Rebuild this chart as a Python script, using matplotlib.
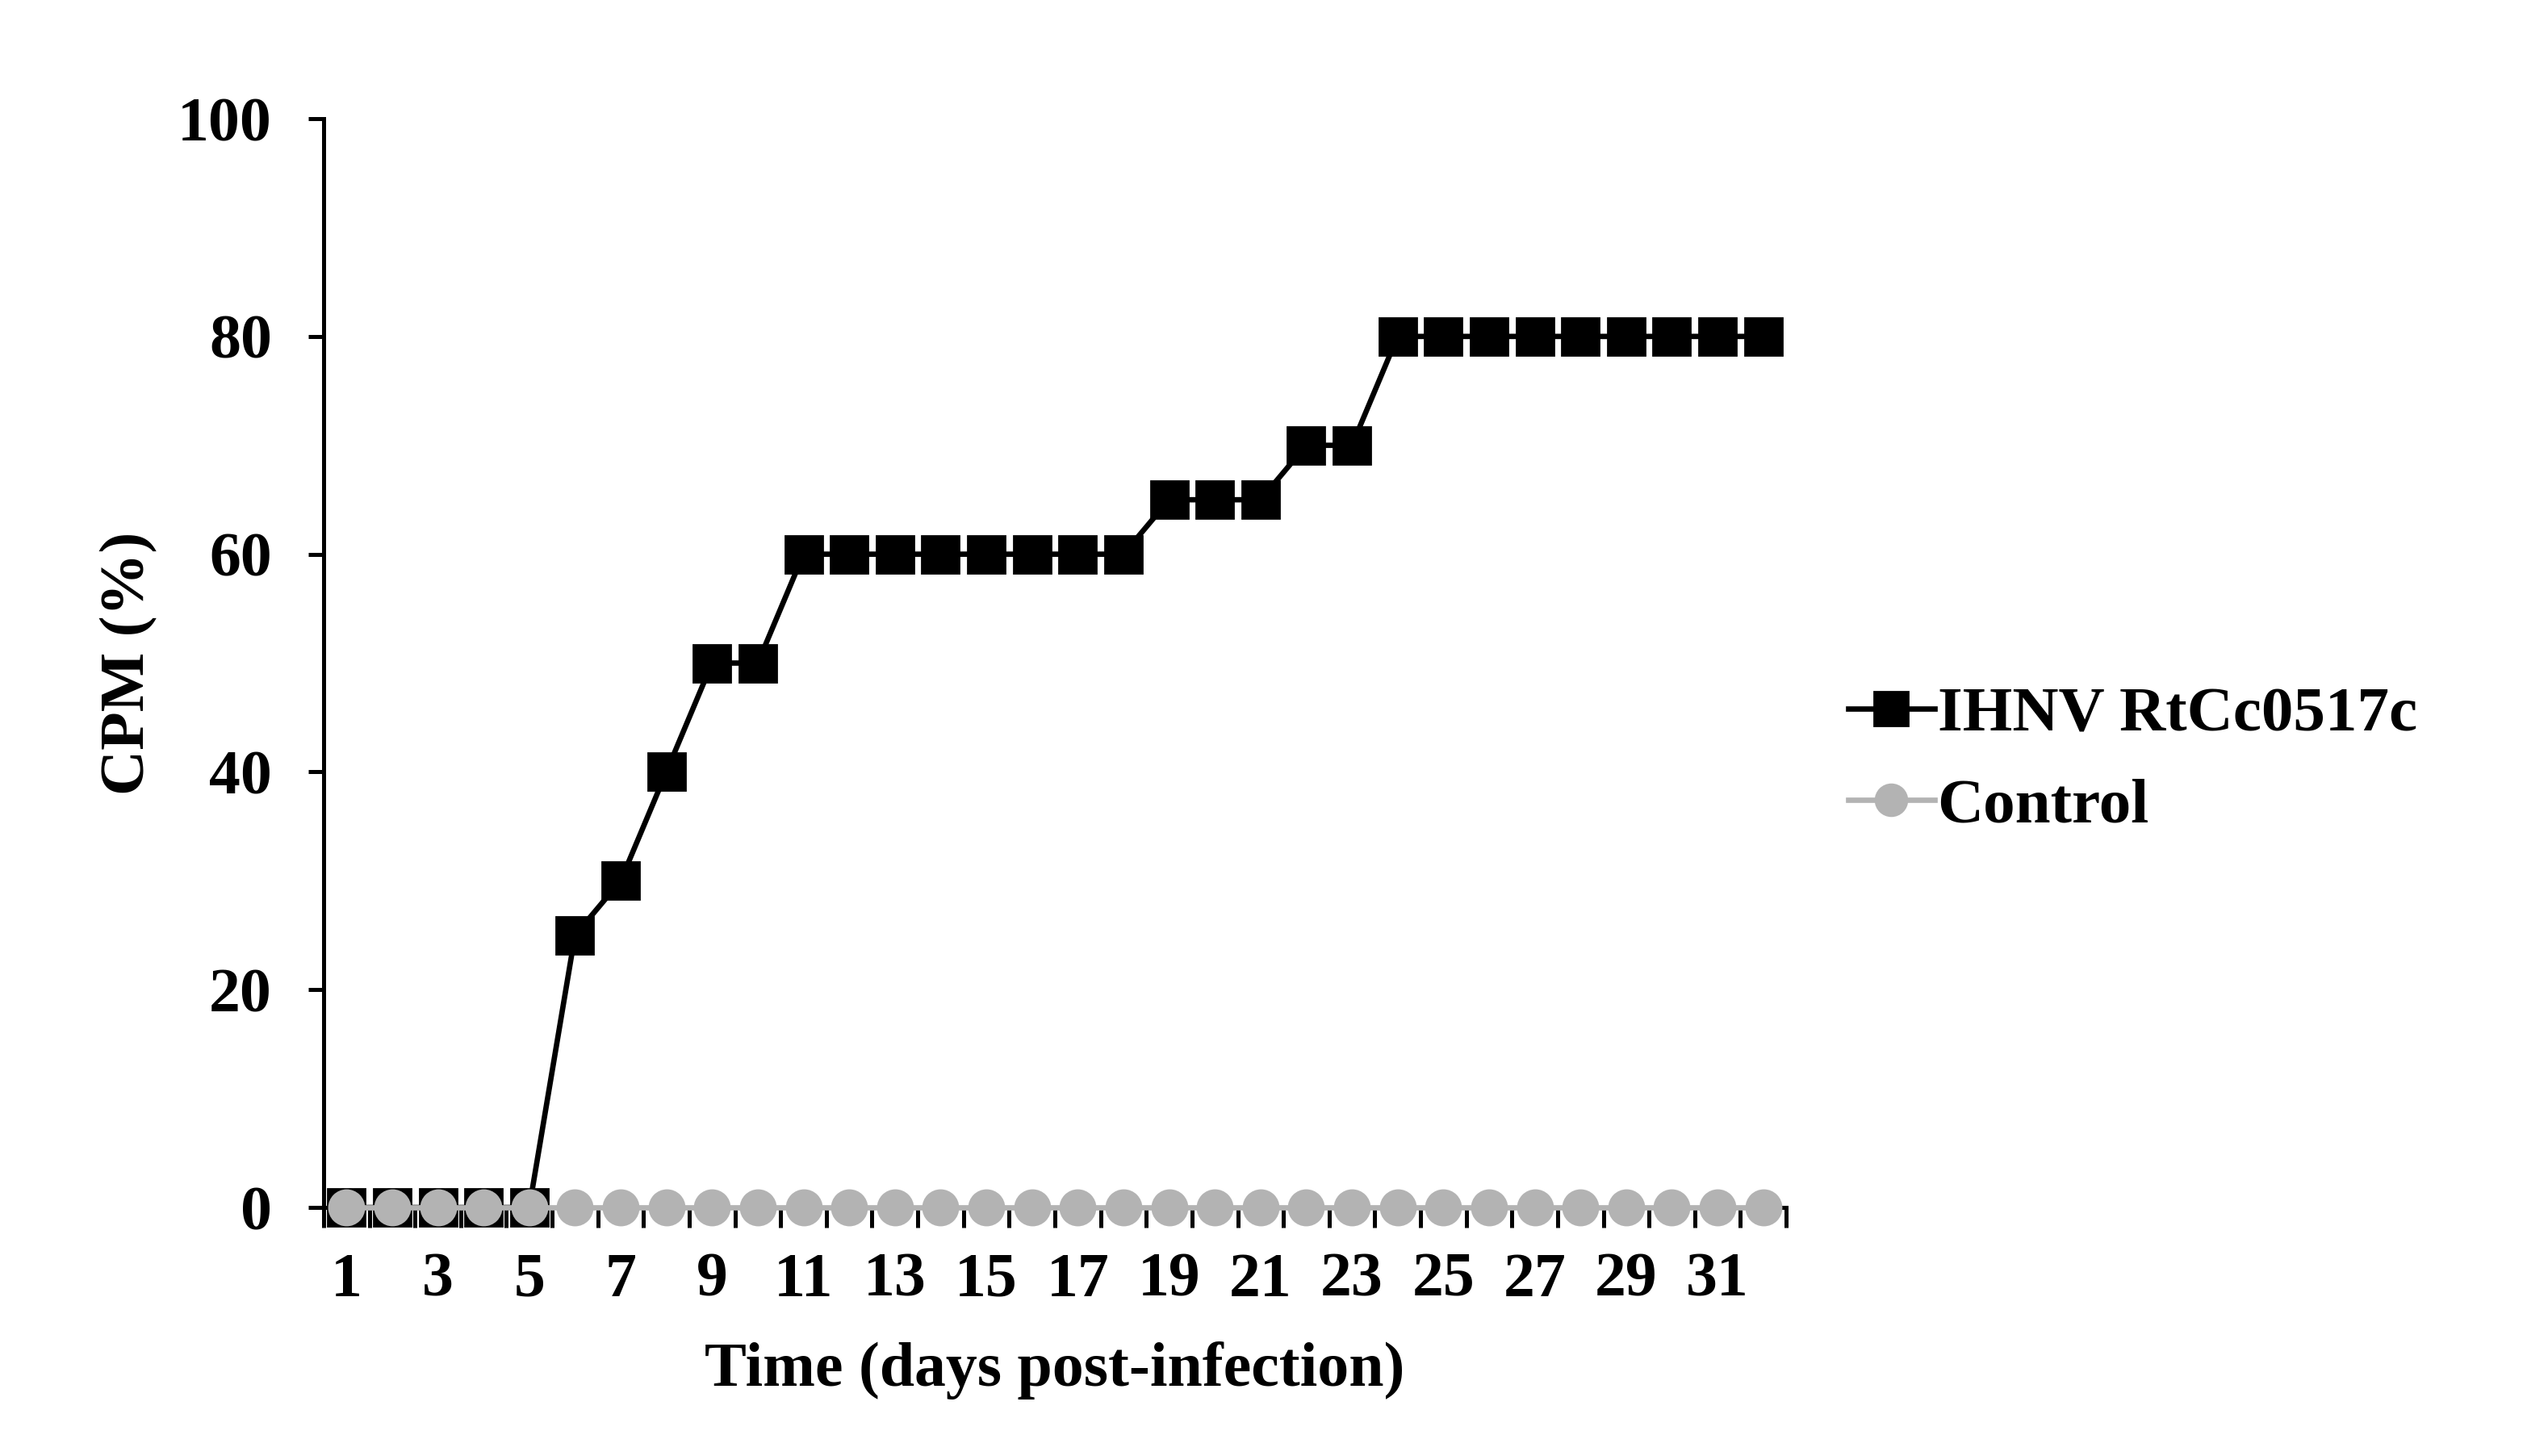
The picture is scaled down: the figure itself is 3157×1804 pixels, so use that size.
import numpy as np
import matplotlib
matplotlib.use("Agg")
import matplotlib.pyplot as plt

plt.rcParams['font.family'] = ['Liberation Serif', 'DejaVu Serif']
plt.rcParams['font.weight'] = 'bold'

days = list(range(1, 33))
ihnv = [0, 0, 0, 0, 0, 25, 30, 40, 50, 50,
        60, 60, 60, 60, 60, 60, 60, 60, 65, 65,
        65, 70, 70, 80, 80, 80, 80, 80, 80, 80,
        80, 80]
control = [0] * 32
xtick_labels = [str(d) for d in range(1, 33, 2)]

fig = plt.figure(figsize=(15.785, 9.02), dpi=200)
ax = fig.add_axes([0.127, 0.1707, 0.574, 0.7478])

ax.plot(days, ihnv, color="black", lw=2.4, marker="s", ms=16.5,
        mfc="black", mec="black", clip_on=False, zorder=3,
        label="IHNV RtCc0517c")
ax.plot(days, control, color="#b3b3b3", lw=2.4, marker="o", ms=15.5,
        mfc="#b3b3b3", mec="#b3b3b3", clip_on=False, zorder=4,
        label="Control")

ax.set_xlim(0.5, 32.5)
ax.set_ylim(0, 100)
ax.set_yticks([0, 20, 40, 60, 80, 100])

# category-style axis: ticks between days, labels on odd days
ax.set_xticks(np.arange(0.5, 33, 1))
ax.set_xticklabels([])
ax.set_xticks(range(1, 33, 2), minor=True)
ax.set_xticklabels(xtick_labels, minor=True)
ax.tick_params(axis="x", which="major", direction="out", length=9, width=1.8)
ax.tick_params(axis="x", which="minor", length=0, pad=20, labelsize=28)
ax.tick_params(axis="y", direction="out", length=7, width=1.8, pad=16, labelsize=28)

for s in ["top", "right"]:
    ax.spines[s].set_visible(False)
for s in ["left", "bottom"]:
    ax.spines[s].set_linewidth(1.8)

ax.set_xlabel("Time (days post-infection)", fontsize=28, fontweight="bold", labelpad=14)
ax.set_ylabel("CPM (%)", fontsize=28, fontweight="bold", labelpad=9)

ax.legend(loc="center left", bbox_to_anchor=(1.003, 0.41), frameon=False,
          fontsize=28.5, handlelength=1.35, handletextpad=0.05, labelspacing=0.52,
          markerscale=0.9)

fig.savefig("out.png", dpi=200)
